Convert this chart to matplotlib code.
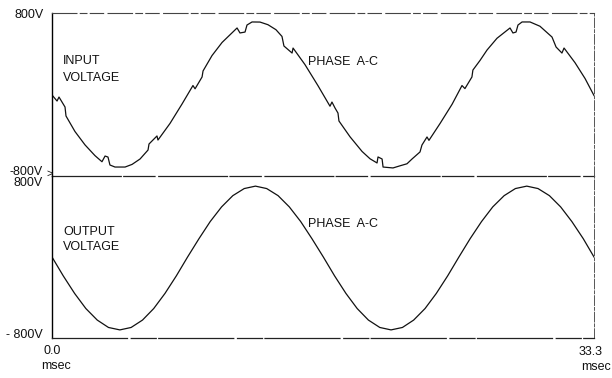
import matplotlib
matplotlib.use('Agg')
import matplotlib.pyplot as plt

# fuentes: texto estrecho tipo plotter
plt.rcParams['font.family'] = ['Liberation Sans Narrow', 'Liberation Sans', 'DejaVu Sans']

# tension de entrada (fase A-C): tiempo en ms, tension en V
t_in = [0.00, 0.31, 0.43, 0.80, 0.86, 1.41, 2.03, 2.64, 3.07, 3.26, 3.44, 3.56,
        3.87, 4.49, 4.92, 5.41, 5.90, 5.96, 6.45, 6.51, 7.25, 7.99, 8.66, 8.79,
        9.22, 9.28, 9.83, 10.45, 11.37, 11.55, 11.86, 11.98, 12.29, 12.78, 13.27,
        13.76, 14.13, 14.25, 14.75, 14.81, 15.54, 16.34, 17.08, 17.20, 17.39,
        17.57, 17.63, 18.31, 19.05, 19.54, 19.97, 20.03, 20.28, 20.34, 20.95,
        21.38, 21.81, 22.12, 22.61, 22.73, 23.04, 23.16, 23.84, 24.58, 25.19,
        25.37, 25.80, 25.86, 26.30, 26.73, 27.34, 28.14, 28.32, 28.51, 28.63,
        28.88, 29.37, 29.98, 30.72, 30.97, 31.33, 31.46, 32.13, 32.75, 33.30]
v_in = [-5, -64, -25, -123, -211, -363, -495, -600, -660, -604, -614, -692,
        -712, -712, -686, -633, -545, -486, -407, -447, -284, -93, 88, 56,
        172, 231, 382, 511, 653, 604, 613, 682, 712, 711, 685,
        636, 570, 476, 407, 456, 294, 87, -115, -74, -133,
        -182, -260, -415, -559, -631, -672, -613, -633, -712, -721,
        -700, -680, -633, -564, -496, -417, -450, -285, -96, 88,
        58, 172, 240, 335, 437, 552, 653, 604, 613, 682,
        712, 712, 670, 564, 466, 407, 456, 313, 157, -10]

# tension de salida (fase A-C)
t_out = [0.00, 0.69, 1.39, 2.08, 2.78, 3.47, 4.17, 4.86, 5.56, 6.25, 6.94, 7.64,
         8.33, 9.03, 9.72, 10.42, 11.11, 11.81, 12.50, 13.19, 13.89, 14.58, 15.28,
         15.97, 16.67, 17.36, 18.06, 18.75, 19.44, 20.14, 20.83, 21.53, 22.22,
         22.92, 23.61, 24.31, 25.00, 25.69, 26.39, 27.08, 27.78, 28.47, 29.17,
         29.86, 30.56, 31.25, 31.94, 32.64, 33.30]
v_out = [0, -186, -360, -509, -623, -696, -720, -696, -623, -509, -360, -186,
         0, 181, 350, 495, 606, 676, 700, 676, 606, 495, 350,
         181, 0, -186, -360, -509, -623, -696, -720, -696, -623,
         -509, -360, -186, 0, 181, 350, 495, 606, 676, 700,
         676, 606, 495, 350, 181, 0]

W, H = 612, 378
fig = plt.figure(figsize=(W / 100, H / 100), dpi=100)

x0, x1 = 52 / W, 594 / W
ytop, ymid, ybot = 1 - 13 / H, 1 - 176 / H, 1 - 338 / H
ax1 = fig.add_axes([x0, ymid, x1 - x0, ytop - ymid])
ax2 = fig.add_axes([x0, ybot, x1 - x0, ymid - ybot])

for ax, t, v in [(ax1, t_in, v_in), (ax2, t_out, v_out)]:
    ax.set_facecolor('none')
    ax.plot(t, v, color='#111111', lw=0.9)
    ax.set_xlim(0, 33.3)
    ax.set_ylim(-800, 800)
    ax.set_xticks([])
    ax.set_yticks([])
    ax.spines['left'].set_color('black')
    ax.spines['left'].set_linewidth(1.0)
    ax.spines['right'].set_color('#555555')
    ax.spines['right'].set_linewidth(0.7)
    ax.spines['right'].set_linestyle((0, (10, 2, 3, 2)))

ax1.spines['top'].set_color('#444444')
ax1.spines['top'].set_linewidth(0.8)
ax1.spines['top'].set_linestyle((0, (22, 3, 6, 3, 12, 4)))
ax1.spines['bottom'].set_color('#222222')
ax1.spines['bottom'].set_linewidth(0.9)
ax1.spines['bottom'].set_linestyle((0, (55, 2, 25, 3)))
ax2.spines['top'].set_visible(False)
ax2.spines['bottom'].set_color('#222222')
ax2.spines['bottom'].set_linewidth(0.9)
ax2.spines['bottom'].set_linestyle((0, (60, 3, 20, 2)))


def px_text(x, y, s, ha='left', size=9):
    fig.text(x / W, 1 - y / H, s, ha=ha, va='center', fontsize=size, color='#111111')


# etiquetas del eje vertical
px_text(44, 15, '800V', ha='right')
px_text(43, 172, '-800V', ha='right')
px_text(53, 174, '>', ha='right', size=8)
px_text(43, 183, '800V', ha='right')
px_text(43, 335, '- 800V', ha='right')

# etiquetas del eje de tiempo
px_text(52, 351, '0.0', ha='center')
px_text(56, 366, 'msec', ha='center')
px_text(591, 352, '33.3', ha='center')
px_text(611, 367, 'msec', ha='right')

# rotulos de las curvas
px_text(63, 61, 'INPUT')
px_text(63, 78, 'VOLTAGE')
px_text(308, 62, 'PHASE  A-C')
px_text(63, 232, 'OUTPUT')
px_text(63, 247, 'VOLTAGE')
px_text(308, 224, 'PHASE  A-C')

fig.savefig('out.png', dpi=100)
